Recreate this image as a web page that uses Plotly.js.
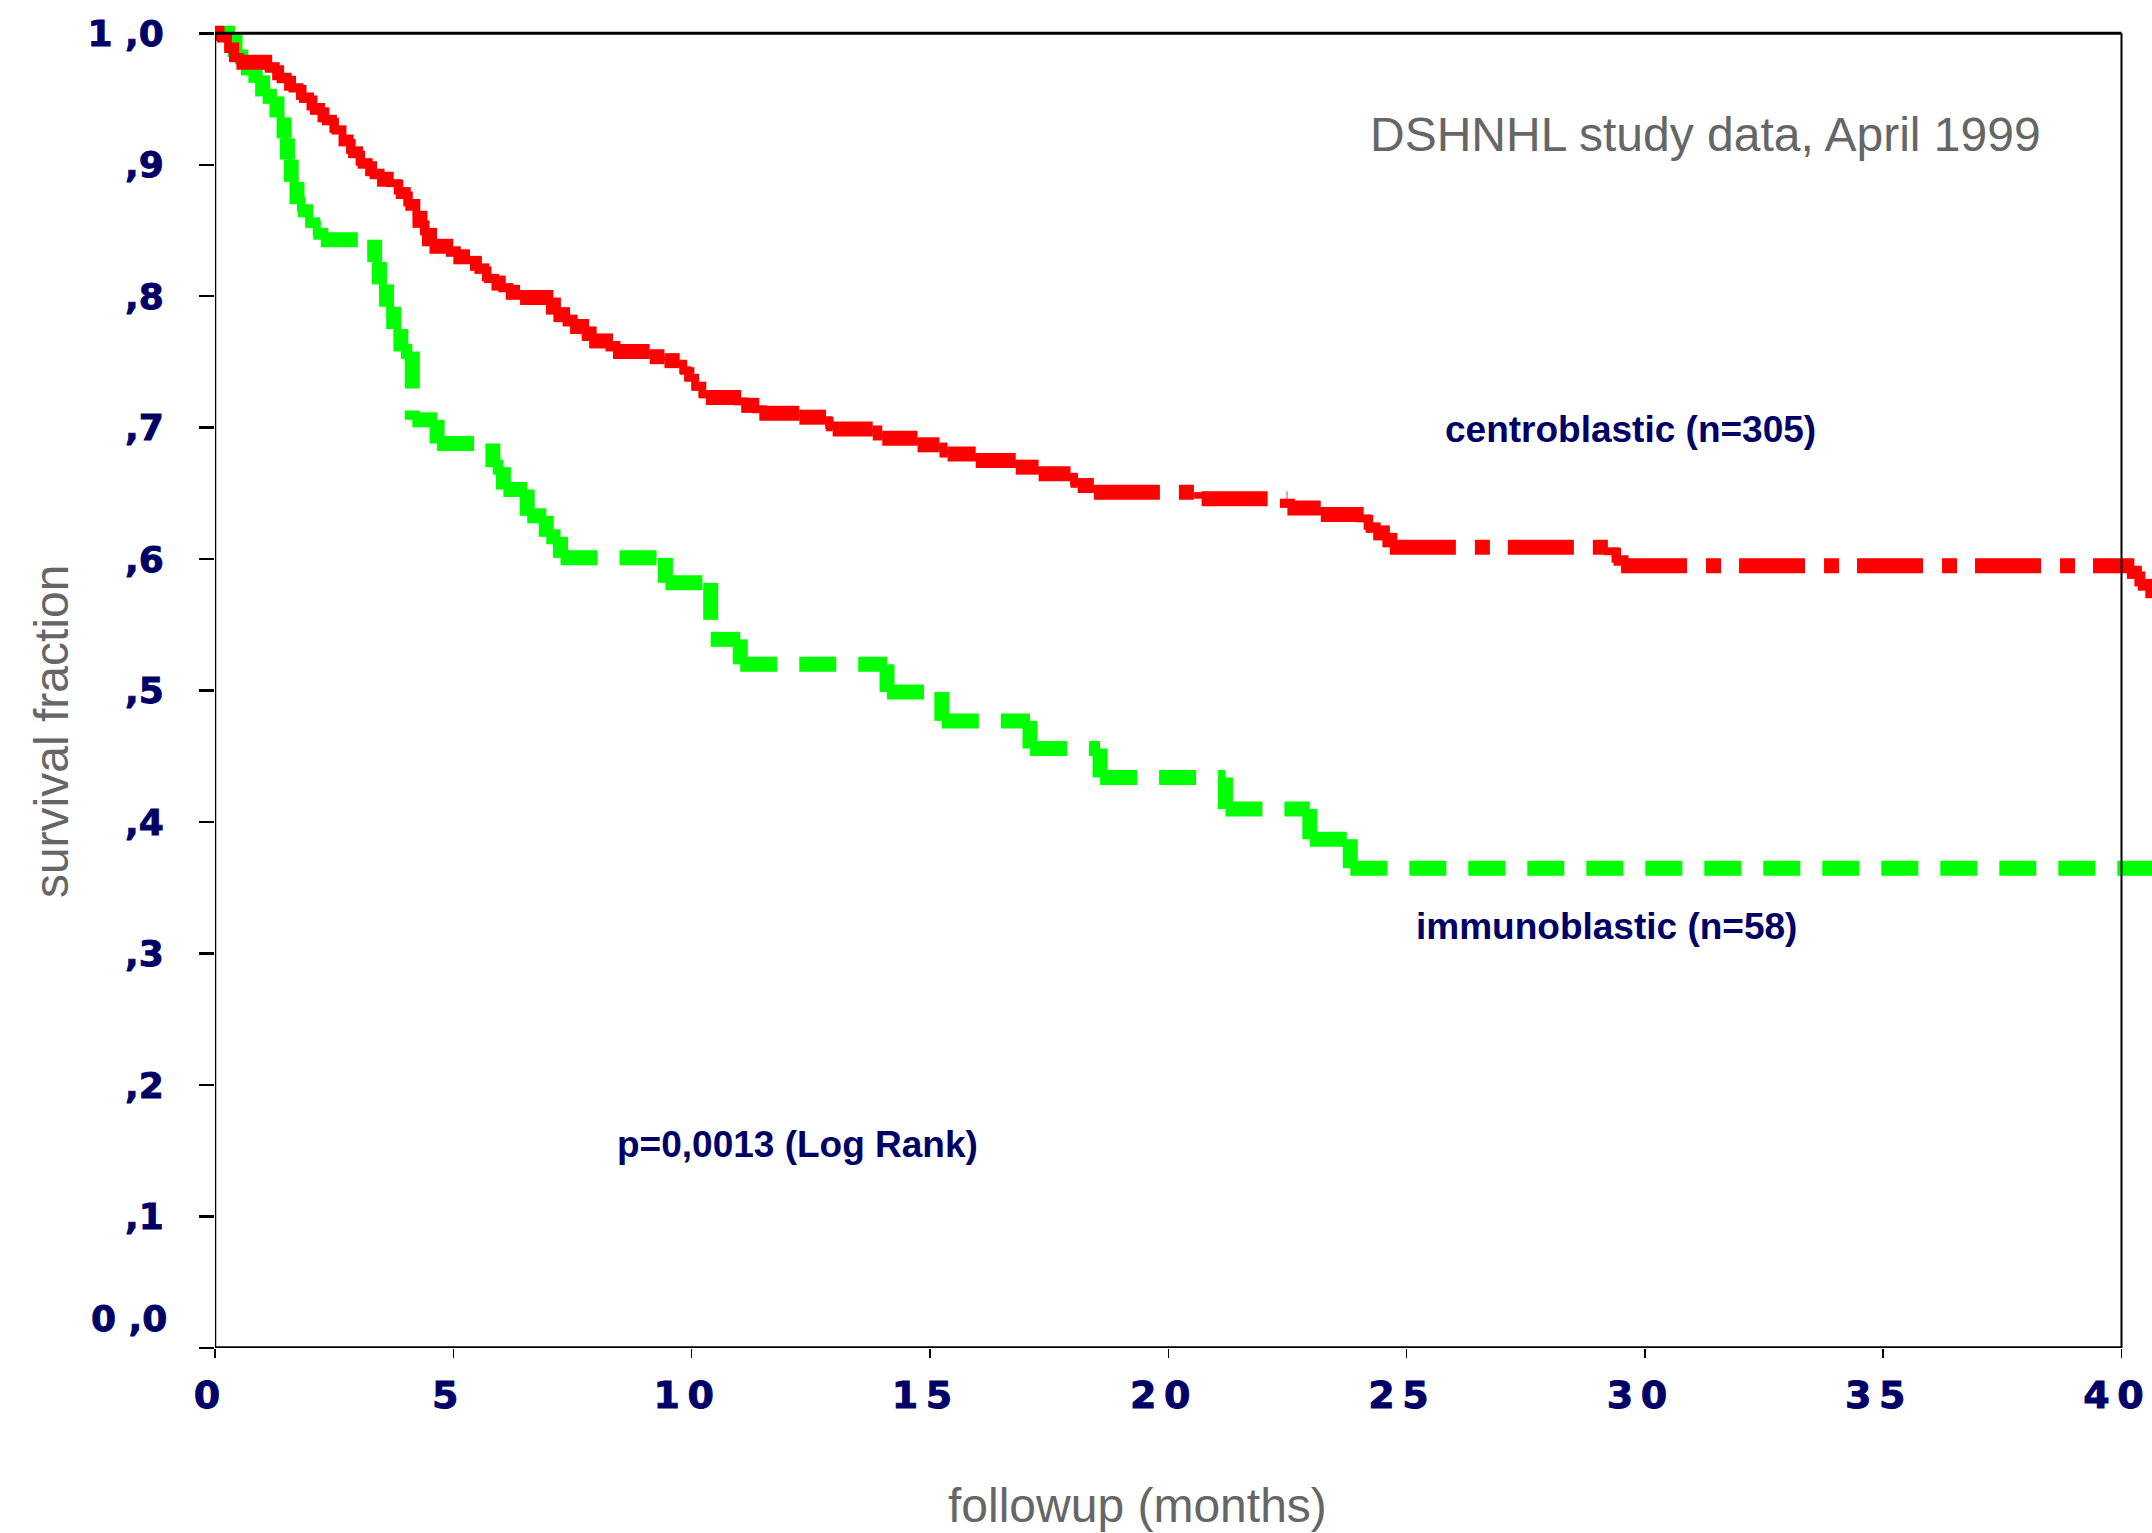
<!DOCTYPE html>
<html>
<head>
<meta charset="utf-8">
<script src="https://cdn.plot.ly/plotly-3.0.1.min.js"></script>
<style>
  html, body { margin: 0; padding: 0; background: #ffffff; }
  #chart { width: 2152px; height: 1533px; }
  .xtick text, .ytick text, .annotation[data-index="4"] text { stroke: #000066; stroke-width: 0.9px; }
</style>
</head>
<body>
<div id="chart"></div>
<script>
// ---- Data ----
// Kaplan-Meier step curves: time (months) at which a level starts, and the survival level
const centroTime = [0, 0.2, 0.35, 0.45, 1.2, 1.45, 1.7, 1.92, 2.15, 2.4, 2.6, 2.75, 2.95, 3.15, 3.4, 3.75, 3.95, 4.15, 4.3, 4.5,
  5.0, 5.35, 5.6, 5.8, 6.1, 6.4, 7.1, 7.45, 7.85, 8.35, 9.12, 9.43, 9.75, 9.9, 10.0, 10.15, 10.3, 11.04, 11.42, 12.26,
  12.82, 12.96, 13.8, 14.0, 14.74, 15.2, 15.37, 15.96, 16.8, 17.28, 17.95, 18.1, 18.44, 20.7, 22.5, 23.2, 24.1, 24.3, 24.65,
  29.3, 29.5, 40.27, 40.5];
const centroSurv = [1.0, 0.993, 0.985, 0.978, 0.970, 0.962, 0.955, 0.947, 0.938, 0.930, 0.923, 0.914, 0.905, 0.897, 0.889, 0.883, 0.874, 0.865, 0.852, 0.838,
  0.830, 0.825, 0.817, 0.810, 0.803, 0.799, 0.786, 0.777, 0.766, 0.758, 0.754, 0.751, 0.746, 0.741, 0.735, 0.728, 0.723, 0.717, 0.711, 0.708,
  0.703, 0.699, 0.696, 0.692, 0.687, 0.683, 0.680, 0.675, 0.670, 0.665, 0.660, 0.656, 0.651, 0.646, 0.639, 0.634, 0.628, 0.620, 0.609,
  0.603, 0.595, 0.585, 0.576];
const centroEnd = 40.7;

const immunoTime = [0, 0.42, 0.7, 1.0, 1.3, 1.45, 1.52, 1.6, 1.72, 1.9, 2.05, 2.22, 3.35, 3.45, 3.6, 3.75, 3.9, 4.14, 4.66,
  5.83, 6.05, 6.55, 6.95, 7.25, 9.45, 10.4, 11.02, 14.1, 15.25, 17.1, 18.57, 21.2, 22.97, 23.82];
const immunoSurv = [1.0, 0.982, 0.968, 0.952, 0.936, 0.920, 0.904, 0.887, 0.870, 0.860, 0.852, 0.843, 0.826, 0.809, 0.792, 0.775, 0.758, 0.706, 0.688,
  0.670, 0.653, 0.633, 0.617, 0.601, 0.582, 0.539, 0.520, 0.499, 0.477, 0.456, 0.434, 0.410, 0.387, 0.365];
const immunoEnd = 40.7;

const xTickVals = [0, 5, 10, 15, 20, 25, 30, 35, 40];
const xTickText = ["0", "5", "1\u20090", "1\u20095", "2\u20090", "2\u20095", "3\u20090", "3\u20095", "4\u20090"];
const yTickVals = [0, 0.1, 0.2, 0.3, 0.4, 0.5, 0.6, 0.7, 0.8, 0.9, 1.0];
const yTickText = ["", ",1", ",2", ",3", ",4", ",5", ",6", ",7", ",8", ",9", "1 ,0"];
const yZeroLabel = "0 ,0";

const seriesNames = ["immunoblastic (n=58)", "centroblastic (n=305)"];

// ---- Build step segments (each horizontal / vertical piece is its own sub-path) ----
function stepSegments(times, surv, endT) {
  const xs = [], ys = [];
  for (let i = 0; i < times.length; i++) {
    const tNext = i < times.length - 1 ? times[i + 1] : endT;
    xs.push(times[i], tNext, null);
    ys.push(surv[i], surv[i], null);
    if (i < times.length - 1) {
      xs.push(tNext, tNext, null);
      ys.push(surv[i], surv[i + 1], null);
    }
  }
  return { xs, ys };
}

const immunoSeg = stepSegments(immunoTime, immunoSurv, immunoEnd);
const centroSeg = stepSegments(centroTime, centroSurv, centroEnd);

const traces = [
  {
    type: 'scatter', mode: 'lines', name: seriesNames[0],
    x: immunoSeg.xs, y: immunoSeg.ys, connectgaps: false,
    line: { color: '#00ff00', width: 15, dash: '37px,22px', simplify: false },
    hoverinfo: 'skip', showlegend: false
  },
  {
    type: 'scatter', mode: 'lines', name: seriesNames[1],
    x: centroSeg.xs, y: centroSeg.ys, connectgaps: false,
    line: { color: '#ff0000', width: 15, dash: '66px,19px,15px,18px', simplify: false },
    hoverinfo: 'skip', showlegend: false
  }
];

const navy = '#000066';
const gray = '#666666';
const tickFont = { family: 'DejaVu Sans, Arial, sans-serif', size: 36, color: navy, weight: 'bold' };

const layout = {
  width: 2152, height: 1533,
  margin: { l: 215, r: 0, t: 7, b: 185, pad: 0 },
  paper_bgcolor: '#ffffff', plot_bgcolor: '#ffffff',
  showlegend: false,
  xaxis: {
    range: [0, 40.64], autorange: false,
    showgrid: false, zeroline: false, showline: false,
    tickmode: 'array', tickvals: xTickVals, ticktext: xTickText,
    ticks: 'outside', ticklen: 9, tickwidth: 1.5, tickcolor: '#000000',
    tickfont: { family: tickFont.family, size: 38, color: navy, weight: 'bold' },
    ticklabelstandoff: 4, ticklabelshift: -8
  },
  yaxis: {
    range: [0, 1.02], autorange: false,
    showgrid: false, zeroline: false, showline: false,
    tickmode: 'array', tickvals: yTickVals, ticktext: yTickText,
    ticks: 'outside', ticklen: 15, tickwidth: 2.5, tickcolor: '#000000',
    tickfont: tickFont,
    ticklabelstandoff: 28
  },
  shapes: [
    { type: 'line', xref: 'x', yref: 'y', x0: 0, x1: 0, y0: 0, y1: 1, line: { color: '#000000', width: 2.5 }, layer: 'above' },
    { type: 'line', xref: 'x', yref: 'y', x0: 0, x1: 40, y0: 0, y1: 0, line: { color: '#000000', width: 3.5 }, layer: 'above' },
    { type: 'line', xref: 'x', yref: 'y', x0: 0, x1: 40, y0: 1, y1: 1, line: { color: '#000000', width: 3 }, layer: 'above' },
    { type: 'line', xref: 'x', yref: 'y', x0: 40, x1: 40, y0: 0, y1: 1, line: { color: '#000000', width: 2 }, layer: 'above' }
  ],
  annotations: [
    { text: 'DSHNHL study data, April 1999', xref: 'x', yref: 'y', x: 31.28, y: 0.923, showarrow: false,
      xanchor: 'center', yanchor: 'middle', font: { family: 'Liberation Sans, Arial, sans-serif', size: 48, color: gray } },
    { text: '<b>centroblastic (n=305)</b>', xref: 'x', yref: 'y', x: 29.69, y: 0.699, showarrow: false,
      xanchor: 'center', yanchor: 'middle', font: { family: 'Liberation Sans, Arial, sans-serif', size: 37, color: navy } },
    { text: '<b>immunoblastic (n=58)</b>', xref: 'x', yref: 'y', x: 29.19, y: 0.3205, showarrow: false,
      xanchor: 'center', yanchor: 'middle', font: { family: 'Liberation Sans, Arial, sans-serif', size: 37, color: navy } },
    { text: '<b>p=0,0013 (Log Rank)</b>', xref: 'x', yref: 'y', x: 12.23, y: 0.1548, showarrow: false,
      xanchor: 'center', yanchor: 'middle', font: { family: 'Liberation Sans, Arial, sans-serif', size: 37, color: navy } },
    { text: yZeroLabel, xref: 'x', yref: 'y', x: 0, y: 0, showarrow: false,
      xanchor: 'right', yanchor: 'middle', xshift: -46, yshift: 30, font: tickFont },
    { text: 'followup (months)', xref: 'paper', yref: 'paper', x: 0.476, y: -0.1178, showarrow: false,
      xanchor: 'center', yanchor: 'middle', font: { family: 'Liberation Sans, Arial, sans-serif', size: 48, color: gray } },
    { text: 'survival fraction', xref: 'paper', yref: 'paper', x: -0.0847, y: 0.46, showarrow: false, textangle: -90,
      xanchor: 'center', yanchor: 'middle', font: { family: 'Liberation Sans, Arial, sans-serif', size: 48, color: gray } }
  ]
};

Plotly.newPlot('chart', traces, layout, { staticPlot: true, displayModeBar: false });
</script>
</body>
</html>
